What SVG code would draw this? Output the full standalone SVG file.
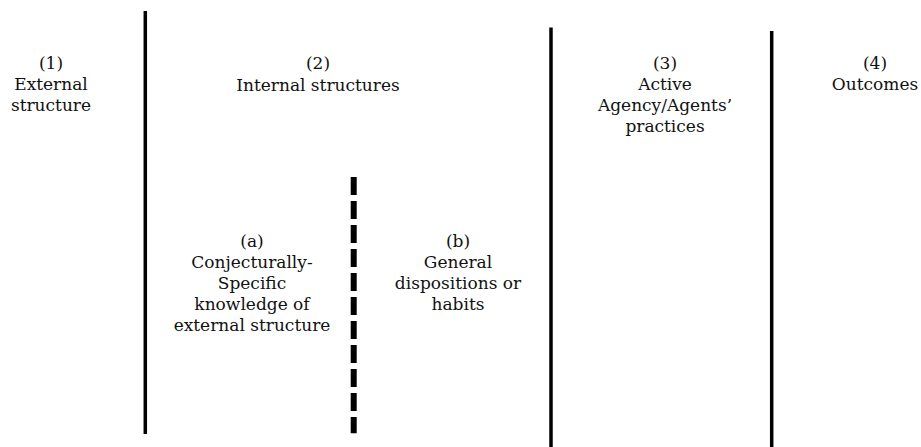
<svg xmlns="http://www.w3.org/2000/svg" width="921" height="447" viewBox="0 0 921 447">
<style>
text{font-family:"DejaVu Serif",serif;font-size:17px;fill:#111;text-anchor:middle}
.solid{stroke:#000;stroke-width:3.5;fill:none}
.dash{stroke:#000;stroke-width:6;stroke-dasharray:18 6;fill:none}
</style>
<rect width="921" height="447" fill="#fff"/>
<g id="connectors">
<line class="solid" x1="145.3" y1="11" x2="145.3" y2="434"/>
<line class="solid" x1="551" y1="27.5" x2="551" y2="447"/>
<line class="solid" x1="771.7" y1="31" x2="771.7" y2="447"/>
<line class="dash" x1="353.7" y1="177" x2="353.7" y2="433.3"/>
</g>
<g id="n1"><text x="51" y="69">(1)</text><text x="51" y="90">External</text><text x="51" y="111">structure</text></g>
<g id="n2"><text x="318" y="69">(2)</text><text x="318" y="91">Internal structures</text></g>
<g id="n3"><text x="665" y="69">(3)</text><text x="665" y="90">Active</text><text x="665" y="111">Agency/Agents’</text><text x="665" y="132">practices</text></g>
<g id="n4"><text x="875" y="69">(4)</text><text x="875" y="90">Outcomes</text></g>
<g id="na"><text x="252" y="247">(a)</text><text x="252" y="268">Conjecturally-</text><text x="252" y="289">Specific</text><text x="252" y="310">knowledge of</text><text x="252" y="331">external structure</text></g>
<g id="nb"><text x="458" y="247">(b)</text><text x="458" y="268">General</text><text x="458" y="289">dispositions or</text><text x="458" y="310">habits</text></g>
</svg>
